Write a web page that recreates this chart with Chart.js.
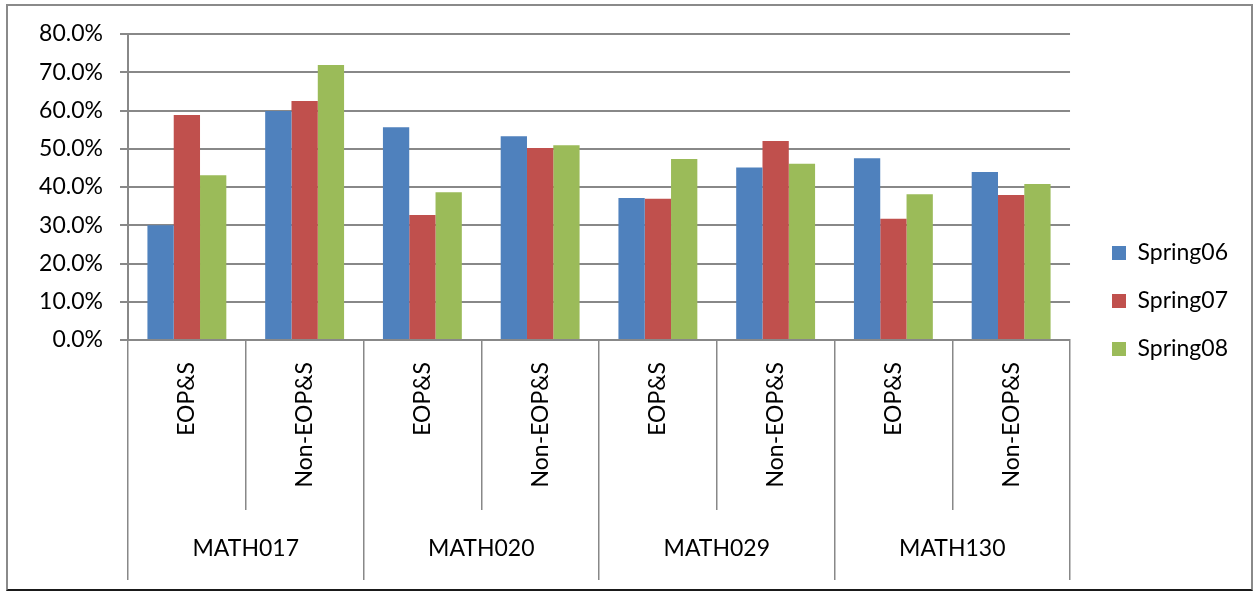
<!DOCTYPE html>
<html>
<head>
<meta charset="utf-8">
<script src="https://cdn.jsdelivr.net/npm/chart.js@4/dist/chart.umd.min.js"></script>
<style>
  html, body { margin: 0; padding: 0; background: #ffffff; }
  #frame {
    position: absolute; left: 6px; top: 4px; width: 1243px; height: 583px;
    border: 2px solid #8a8a8a; border-bottom-color: #1a1a1a; background: #fff;
  }
  #wrap { position: relative; width: 1243px; height: 583px; }
</style>
</head>
<body>
<div id="frame"><div id="wrap"><canvas id="c"></canvas></div></div>
<script>
// ---- data ----
const groups = ['MATH017', 'MATH020', 'MATH029', 'MATH130'];
const subgroups = ['EOP&S', 'Non-EOP&S'];
const seriesNames = ['Spring06', 'Spring07', 'Spring08'];
const spring06 = [30.0, 59.9, 55.6, 53.3, 37.1, 45.1, 47.5, 43.9];
const spring07 = [58.8, 62.5, 32.7, 50.2, 36.9, 52.0, 31.7, 37.9];
const spring08 = [43.1, 71.9, 38.6, 50.9, 47.3, 46.1, 38.1, 40.8];
const yTicksMin = 0, yTicksMax = 80, yTicksStep = 10;

// ---- build ----
const categories = [];
groups.forEach(() => subgroups.forEach(s => categories.push(s)));
const colors = ['#4F81BD', '#C0504D', '#9BBB59'];
const values = [spring06, spring07, spring08];
const FONT = 'Lato, "Open Sans", sans-serif';
const FS = 23;
const GRID = '#888888';

new Chart(document.getElementById('c'), {
  type: 'bar',
  data: {
    labels: categories,
    datasets: seriesNames.map((n, i) => ({
      label: n,
      data: values[i],
      backgroundColor: colors[i],
      borderWidth: 0,
      categoryPercentage: 0.67,
      barPercentage: 1.0
    }))
  },
  options: {
    responsive: true,
    maintainAspectRatio: false,
    animation: false,
    layout: { padding: { top: 28, bottom: 21, left: 0, right: 13 } },
    plugins: {
      tooltip: { enabled: false },
      legend: {
        position: 'right',
        align: 'center',
        labels: {
          boxWidth: 14, boxHeight: 14, padding: 25,
          color: '#000', font: { family: FONT, size: FS }
        }
      }
    },
    scales: {
      y: {
        min: yTicksMin, max: yTicksMax,
        ticks: {
          stepSize: yTicksStep, padding: 17, color: '#000',
          font: { family: FONT, size: FS },
          callback: v => v.toFixed(1) + '%'
        },
        grid: { color: GRID, lineWidth: 2, tickLength: 8 },
        border: { display: true, color: GRID, width: 2 },
        afterFit: s => { s.width = 120; s.paddingTop = 0; s.paddingBottom = 0; }
      },
      yGap: {
        position: 'right', display: true,
        ticks: { display: false },
        grid: { display: false, drawTicks: false },
        border: { display: false },
        afterFit: s => { s.width = 17; }
      },
      x: {
        type: 'category', offset: true, position: 'bottom',
        grid: { display: true, offset: true, drawOnChartArea: false, drawTicks: true, tickLength: 170, color: GRID, lineWidth: 1.5 },
        border: { display: true, color: GRID, width: 2 },
        ticks: {
          minRotation: 90, maxRotation: 90, autoSkip: false, padding: -148,
          color: '#000', font: { family: FONT, size: FS }
        },
        afterFit: s => { s.height = 170; }
      },
      x2: {
        type: 'category', labels: groups, offset: true, position: 'bottom',
        grid: { display: true, offset: true, drawOnChartArea: false, drawTicks: true, tickLength: 70, color: GRID, lineWidth: 1.5 },
        border: { display: false },
        ticks: { autoSkip: false, padding: -45, color: '#000', font: { family: FONT, size: FS } },
        afterFit: s => { s.height = 58; }
      }
    }
  }
});
</script>
</body>
</html>
